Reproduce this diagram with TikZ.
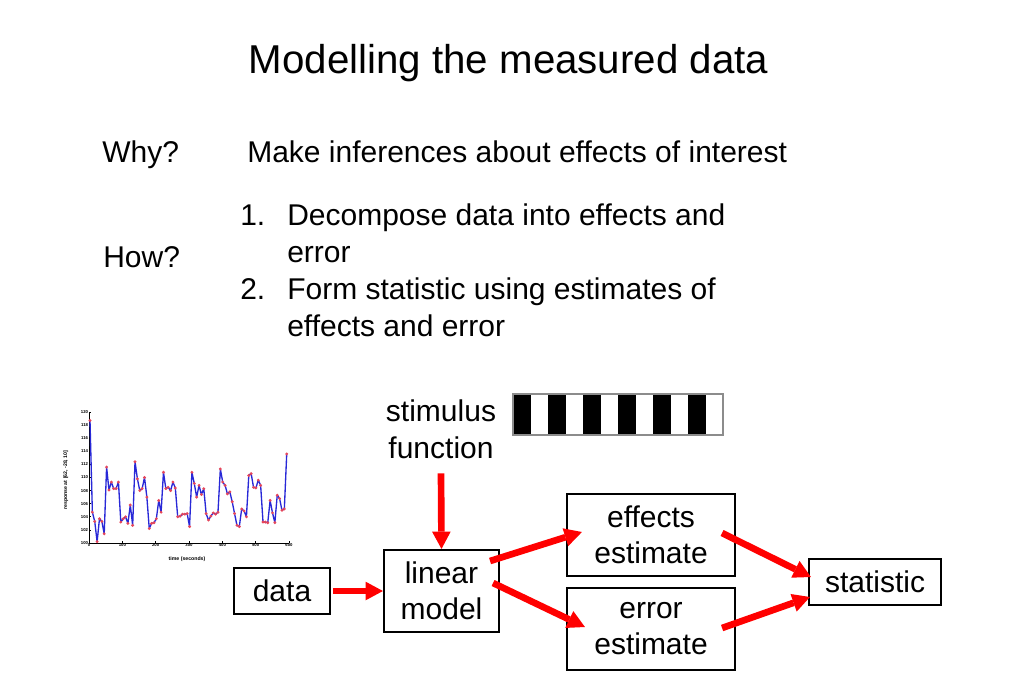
\documentclass[tikz,border=0pt]{standalone}
\usepackage{fontspec}
\setmainfont{Liberation Sans}
\usetikzlibrary{arrows.meta}

\definecolor{plotblue}{RGB}{40,40,215}
\definecolor{plotred}{RGB}{230,70,90}
\definecolor{bargray}{RGB}{140,140,140}

% response values minus 100, one every 7.11 s
\def\respvals{18.7,4.7,3.3,0.2,3.7,3.3,1.4,11.6,8.1,9.3,8.3,8.3,9.3,3.2,3.7,4.0,3.0,5.8,2.7,12.4,9.8,8.0,8.3,10.0,7.0,2.2,3.0,3.1,3.7,6.5,4.7,10.8,8.3,8.5,8.0,9.3,8.4,4.0,4.1,4.4,4.4,4.5,2.5,10.8,9.1,7.0,8.8,7.4,8.3,4.5,3.5,4.1,4.6,4.4,4.7,11.3,9.3,8.8,7.5,7.8,6.3,4.5,2.7,2.5,5.2,4.9,4.0,10.3,10.6,8.5,8.4,9.6,8.8,3.2,3.2,3.1,6.5,4.6,3.1,7.3,6.8,5.0,5.2,13.6}

\begin{document}
\begin{tikzpicture}[
  x=0.75pt, y=-0.75pt,
  title/.style={font=\fontsize{30.2pt}{36pt}\selectfont, inner sep=0pt},
  body/.style={font=\fontsize{22.5pt}{27.75pt}\selectfont, inner sep=0pt},
  box/.style={
    draw, line width=1.6pt, rectangle, align=center, inner sep=0pt,
    font=\fontsize{22.5pt}{27pt}\selectfont
  },
  flow/.style={
    draw=red, line width=5pt,
    -{Triangle[length=13pt, width=14pt, line width=0pt]}
  },
  axisline/.style={line width=0.6pt},
  ticklbl/.style={font=\fontsize{3.2pt}{3.6pt}\selectfont\bfseries, inner sep=0.5pt},
  axislbl/.style={font=\fontsize{3.9pt}{4.5pt}\selectfont\bfseries, inner sep=0pt},
  dataline/.style={draw=plotblue, line width=1pt, line join=round},
]

\useasboundingbox (0,0) rectangle (1023,682);

% heading and text
\node[title, anchor=base] (head) at (508.5,73) {Modelling the measured data};

\node[body, anchor=base west] (why) at (102,162) {Why?};
\node[body, anchor=base west] (whyans) at (247,162) {Make inferences about effects of interest};
\node[body, anchor=base west] (how) at (103,267) {How?};
\node[body, anchor=base west] (num1) at (240,225) {1.};
\node[body, anchor=base west, align=left] (step1) at (287,262) {Decompose data into effects and\\error};
\node[body, anchor=base west] (num2) at (240,299) {2.};
\node[body, anchor=base west, align=left] (step2) at (287,336) {Form statistic using estimates of\\effects and error};

% measured time series
\begin{scope}[shift={(89,543)}, x=0.25pt, y=4.9125pt]
  \draw[axisline] (0,20) -- (0,0) -- (600,0);
  \foreach \yv in {0,2,...,20}{
    \draw[axisline] (0,\yv) -- ++(1.5pt,0);
    \node[ticklbl, anchor=east] (yt\yv) at (0,\yv) {\number\numexpr100+\yv\relax};
  }
  \foreach \xv in {0,100,...,600}{
    \draw[axisline] (\xv,0) -- ++(0,1.5pt);
    \node[ticklbl, anchor=north] (xt\xv) at (\xv,0) {\xv};
  }
  \node[axislbl, rotate=90] (ylab) at (-70,9.6) {response at [62, -28, 10]};
  \node[axislbl] (xlab) at (294,-2.45) {time (seconds)};
  \draw[dataline] (3,18.7) \foreach \v [count=\i from 0] in \respvals { -- ({3+\i*7.11},\v) };
  \foreach \v [count=\i from 0] in \respvals
    \fill[plotred] ({3+\i*7.11},\v) circle (1.2pt);
\end{scope}

% stimulus function
\node[body, align=center] (stim) at (441,429.5) {stimulus\\function};
\foreach \k in {0,...,5}
  \fill (513+\k*35,394) rectangle ++(17.5,41);
\draw[bargray, line width=1.5pt] (513,394) rectangle (723,435);

% model boxes
\node[box, minimum width=96*0.75pt, minimum height=46*0.75pt] (data) at (282,591) {data};
\node[box, minimum width=115*0.75pt, minimum height=82*0.75pt] (lin) at (441.5,591) {linear\\model};
\node[box, minimum width=168*0.75pt, minimum height=82*0.75pt] (eff) at (651,535) {effects\\estimate};
\node[box, minimum width=168*0.75pt, minimum height=82*0.75pt] (err) at (651,629) {error\\estimate};
\node[box, minimum width=132*0.75pt, minimum height=46*0.75pt] (stat) at (875,582) {statistic};

\draw[flow] ([shift={(2,0)}]data.east) -- (lin.west);
\draw[flow] ([shift={(0,14)}]stim.south) -- (lin.north);
\draw[flow] ([shift={(-10,-30)}]lin.east) -- ([shift={(16,-3)}]eff.west);
\draw[flow] ([shift={(-7,-8)}]lin.east) -- ([shift={(19,-2)}]err.west);
\draw[flow] ([shift={(-14,-2)}]eff.east) -- ([shift={(3,-5)}]stat.west);
\draw[flow] ([shift={(-14,-1)}]err.east) -- ([shift={(2,15)}]stat.west);

\end{tikzpicture}
\end{document}
